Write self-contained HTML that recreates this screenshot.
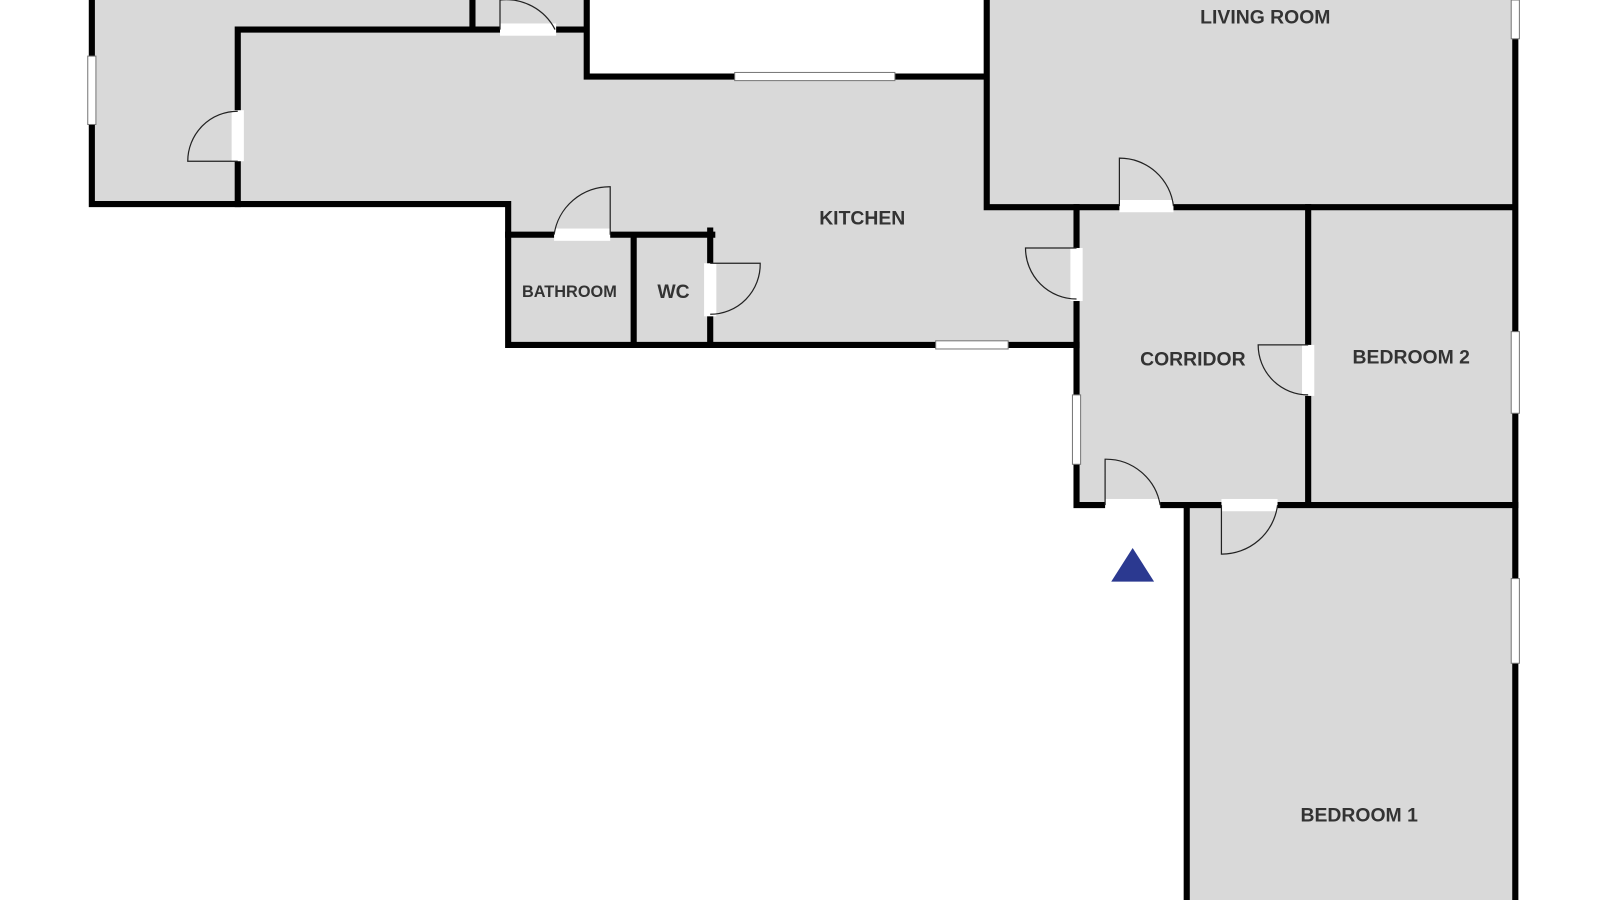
<!DOCTYPE html>
<html><head><style>html,body{margin:0;padding:0;background:#fff;overflow:hidden}svg{display:block}</style></head>
<body>
<svg width="1600" height="900" viewBox="0 0 1568 882" preserveAspectRatio="none" xmlns="http://www.w3.org/2000/svg">
<g fill="#d9d9d9">
<rect x="90" y="0" width="485" height="200"/>
<polygon points="233,29 575,29 575,75 967,75 967,203 1055,203 1055,338 498,338 498,200 233,200"/>
<rect x="967" y="0" width="518" height="203"/>
<rect x="1055" y="203" width="430" height="292"/>
<rect x="1163" y="495" width="322" height="387"/>
</g>
<g stroke="#000" stroke-width="6" fill="none" stroke-linecap="square">
<path d="M90 0V200H498V338H1055"/>
<path d="M233 200V29H575V0M463 0V29M575 29V75H967M967 0V203H1485M1485 0V882"/>
<path d="M498 230H698M621 230V338M696 226V338"/>
<path d="M1055 203V495H1282M1282 203V495H1485M1163 495V882"/>
</g>
<g fill="#fff">
<rect x="227" y="108" width="12" height="50"/>
<rect x="490" y="23" width="55" height="12"/>
<rect x="1097" y="196" width="53" height="12"/>
<rect x="543" y="224" width="55" height="12"/>
<rect x="690" y="258" width="12" height="52"/>
<rect x="1049" y="243" width="12" height="52"/>
<rect x="1083" y="489" width="54" height="12"/>
<rect x="1197" y="489" width="55" height="12"/>
<rect x="1276" y="338" width="12" height="50"/>
</g>
<g fill="#fff" stroke="#777" stroke-width="1">
<rect x="86" y="55" width="8" height="67"/>
<rect x="720" y="71" width="157" height="8"/>
<rect x="917" y="334" width="71" height="8"/>
<rect x="1051" y="387" width="8" height="68"/>
<rect x="1481" y="0" width="8" height="38"/>
<rect x="1481" y="325" width="8" height="80"/>
<rect x="1481" y="567" width="8" height="83"/>
</g>
<g stroke="#222" stroke-width="1.2" fill="none">
<path d="M233 158H184A49 49 0 0 1 233 109"/>
<path d="M490 29V0A54 54 0 0 1 544 29"/>
<path d="M1097 202V155A53 53 0 0 1 1150 202"/>
<path d="M598 230V183A55 55 0 0 0 543 230"/>
<path d="M696 258H745A49 49 0 0 1 696 308"/>
<path d="M1055 243H1005A50 50 0 0 0 1055 293"/>
<path d="M1083 495V450A54 54 0 0 1 1137 495"/>
<path d="M1197 495V543A55 55 0 0 0 1252 495"/>
<path d="M1282 338H1233A49 49 0 0 0 1282 387"/>
</g>
<polygon points="1110,537 1089,570 1131,570" fill="#2b3990"/>
<g font-family="Liberation Sans, sans-serif" font-weight="bold" fill="#333" text-anchor="middle" font-size="19">
<text x="1240" y="23">LIVING ROOM</text>
<text x="845" y="220">KITCHEN</text>
<text x="558" y="291" font-size="16">BATHROOM</text>
<text x="660" y="292">WC</text>
<text x="1169" y="358">CORRIDOR</text>
<text x="1383" y="356">BEDROOM 2</text>
<text x="1332" y="805">BEDROOM 1</text>
</g>
</svg>
</body></html>
